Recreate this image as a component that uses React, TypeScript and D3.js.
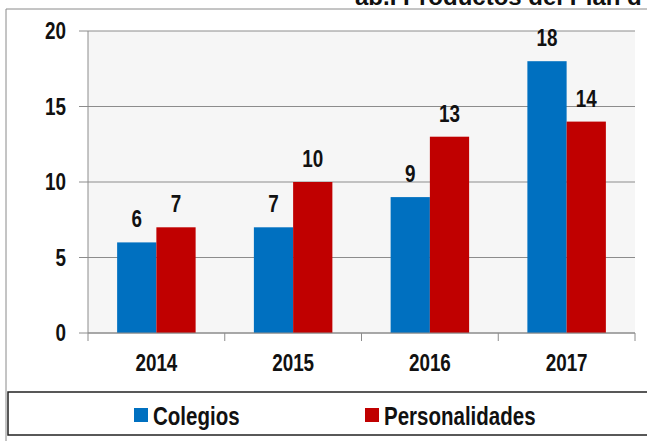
import * as d3 from 'd3';

const years = ['2014', '2015', '2016', '2017'];
const seriesNames = ['Colegios', 'Personalidades'];
const colegios = [6, 7, 9, 18];
const personalidades = [7, 10, 13, 14];
const yTicks = [0, 5, 10, 15, 20];
const titleText = 'ab.I Productos del Plan d';

const WIDTH = 647;
const HEIGHT = 441;
const COLORS = ['#0070C0', '#C00000'];
const FONT = '"Liberation Sans", Arial, sans-serif';
const SQUEEZE = 0.82; // no Arial Narrow installed, so squeeze Liberation Sans

type NTProps = {
  x: number;
  y: number;
  size: number;
  anchor?: 'start' | 'middle' | 'end';
  children: React.ReactNode;
};

// bold narrow-looking text
function NarrowText({ x, y, size, anchor = 'start', children }: NTProps) {
  return (
    <text
      transform={`translate(${x},${y}) scale(${SQUEEZE},1)`}
      textAnchor={anchor}
      fontFamily={FONT}
      fontWeight="bold"
      fontSize={size}
      fill="#111"
    >
      {children}
    </text>
  );
}

export default function App() {
  const left = 88;
  const right = 635;
  const top = 31;
  const bottom = 333;

  const x0 = d3.scaleBand<string>().domain(years).range([left, right]);
  const bw = x0.bandwidth();
  const x1 = d3
    .scaleBand<string>()
    .domain(seriesNames)
    .range([bw * 0.213, bw * 0.787]);
  const y = d3.scaleLinear().domain([0, 20]).range([bottom, top]);

  const values = [colegios, personalidades];

  return (
    <svg
      width={WIDTH}
      height={HEIGHT}
      style={{ position: 'absolute', left: 0, top: 0, display: 'block', background: '#fff' }}
    >
      {/* outer frame */}
      <line x1={6} y1={9} x2={WIDTH} y2={9} stroke="#8a8a8a" strokeWidth={1} />
      <line x1={6} y1={9} x2={6} y2={HEIGHT} stroke="#8a8a8a" strokeWidth={1} />

      <text x={355} y={5} fontFamily={FONT} fontWeight="bold" fontSize={24} fill="#111">
        {titleText}
      </text>

      <rect x={left} y={top} width={right - left} height={bottom - top} fill="#f6f6f6" />

      {yTicks.map((t) => (
        <g key={t}>
          <line x1={79} x2={right} y1={y(t)} y2={y(t)} stroke="#8c8c8c" strokeWidth={1} />
          <NarrowText x={66} y={y(t) + 8} size={23} anchor="end">
            {t}
          </NarrowText>
        </g>
      ))}

      <line x1={left} x2={left} y1={top} y2={bottom} stroke="#8c8c8c" strokeWidth={1} />

      {years.map((yr, i) => (
        <g key={yr} transform={`translate(${x0(yr)},0)`}>
          {values.map((vals, s) => {
            const bx = x1(seriesNames[s])!;
            const v = vals[i];
            return (
              <g key={s}>
                <rect
                  x={bx}
                  y={y(v)}
                  width={x1.bandwidth()}
                  height={y(0) - y(v)}
                  fill={COLORS[s]}
                />
                <NarrowText x={bx + x1.bandwidth() / 2} y={y(v) - 15} size={23} anchor="middle">
                  {v}
                </NarrowText>
              </g>
            );
          })}
          <NarrowText x={bw / 2} y={371} size={23} anchor="middle">
            {yr}
          </NarrowText>
        </g>
      ))}

      <line x1={left} x2={right} y1={bottom} y2={bottom} stroke="#8c8c8c" strokeWidth={1} />
      {[...years.map((yr) => x0(yr)!), right].map((tx, i) => (
        <line key={i} x1={tx} x2={tx} y1={bottom} y2={341} stroke="#8c8c8c" strokeWidth={1} />
      ))}

      {/* legend */}
      <rect x={8} y={392} width={700} height={43} fill="none" stroke="#222" strokeWidth={1.5} />
      {seriesNames.map((name, s) => {
        const lx = s === 0 ? 134 : 365;
        return (
          <g key={name}>
            <rect x={lx} y={408} width={14} height={14} fill={COLORS[s]} />
            <NarrowText x={lx + 19} y={425} size={25}>
              {name}
            </NarrowText>
          </g>
        );
      })}
    </svg>
  );
}
